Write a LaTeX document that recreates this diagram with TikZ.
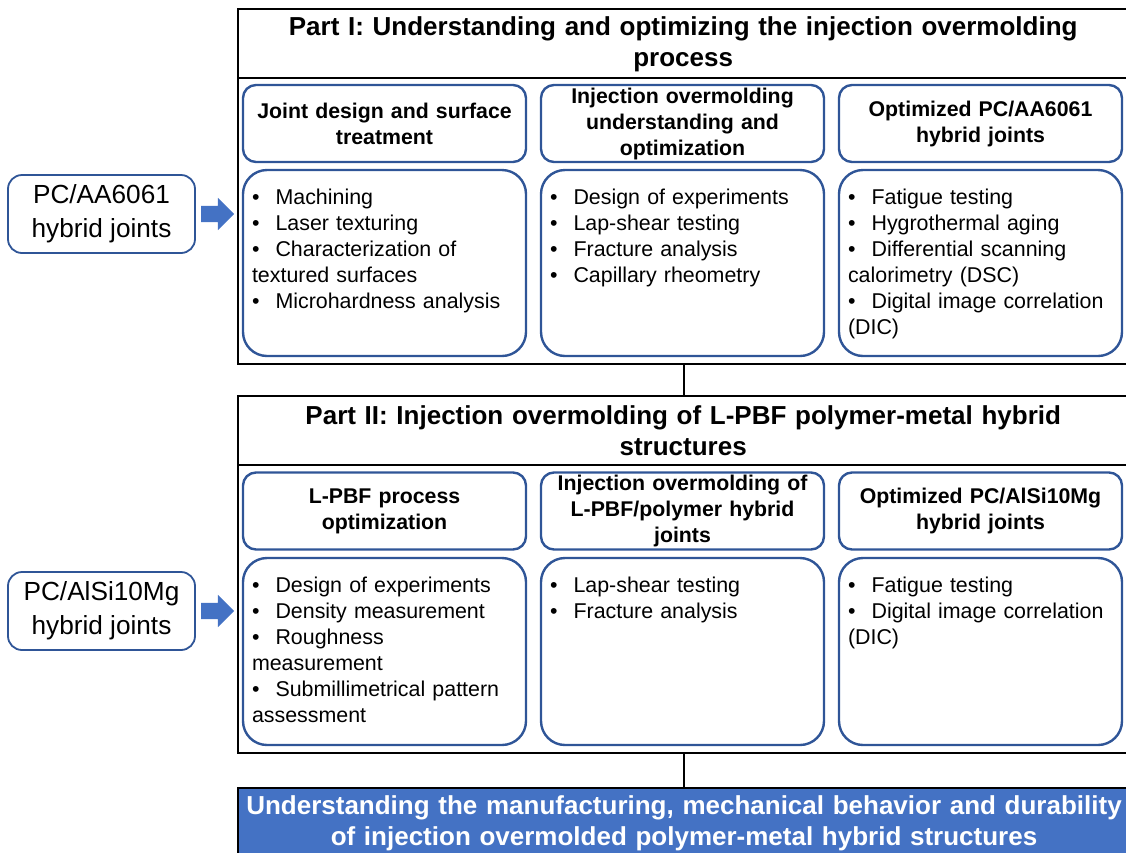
\documentclass[tikz,border=0pt]{standalone}
\usepackage{fontspec}
\setmainfont{Liberation Sans}
\usetikzlibrary{shapes.arrows, positioning}
\usepackage{xcolor}
\definecolor{boxblue}{RGB}{47,85,151}
\definecolor{fillblue}{RGB}{68,114,196}
\newcommand{\itm}{\textbullet\hspace{0.75em}}

\begin{document}
\begin{tikzpicture}[x=1pt, y=-1pt]
    % Styles
    \tikzstyle{frame} = [rectangle, draw, line width=2pt, minimum width=892pt, inner sep=0pt]
    \tikzstyle{title} = [rectangle, minimum width=892pt, minimum height=70pt, inner sep=0pt, text width=880pt, align=center, font=\bfseries\fontsize{26}{31}\selectfont]
    \tikzstyle{head} = [rectangle, draw=boxblue, line width=2.4pt, rounded corners=13pt, minimum width=283pt, minimum height=77pt, text width=280pt, align=center, inner sep=0pt, font=\bfseries\fontsize{21.3}{26}\selectfont]
    \tikzstyle{body} = [rectangle, draw=boxblue, line width=2.4pt, rounded corners=24pt, minimum width=283pt, inner sep=0pt]
    \tikzstyle{items} = [text width=272pt, align=left, inner sep=0pt, anchor=north west, font=\fontsize{21.4}{26}\selectfont]
    \tikzstyle{source} = [rectangle, draw=boxblue, line width=1.8pt, rounded corners=14pt, minimum width=187pt, minimum height=78pt, align=center, inner sep=0pt, font=\fontsize{26.2}{34}\selectfont]
    \tikzstyle{feed} = [single arrow, fill=fillblue, inner sep=8pt, minimum height=33pt, single arrow head extend=8pt]
    \tikzstyle{line} = [draw, line width=2pt]

    \useasboundingbox (0,0) rectangle (1126,852);

    % Part I
    \node [frame, minimum height=355pt, anchor=north west] (part1) at (237,8) {};
    \node [title, anchor=north west] (title1) at (237,9.5) {Part I: Understanding and optimizing the injection overmolding\\process};
    \path [line] (part1.west |- 0,78) -- (part1.east |- 0,78);
    \node [head] (head11) at (384.5,123.5) {Joint design and surface\\treatment};
    \node [head] (head12) at (682.5,123.5) {Injection overmolding\\understanding and\\optimization};
    \node [head] (head13) at (980.5,123.5) {Optimized PC/AA6061\\hybrid joints};
    \node [body, minimum height=186pt] (body11) at (384.5,263) {};
    \node [body, minimum height=186pt] (body12) at (682.5,263) {};
    \node [body, minimum height=186pt] (body13) at (980.5,263) {};
    \node [items] (list11) at ([xshift=10pt,yshift=-20pt]body11.north west) {\itm Machining\\\itm Laser texturing\\\itm Characterization of\\textured surfaces\\\itm Microhardness analysis};
    \node [items] (list12) at ([xshift=10pt,yshift=-20pt]body12.north west) {\itm Design of experiments\\\itm Lap-shear testing\\\itm Fracture analysis\\\itm Capillary rheometry};
    \node [items] (list13) at ([xshift=10pt,yshift=-20pt]body13.north west) {\itm Fatigue testing\\\itm Hygrothermal aging\\\itm Differential scanning\\calorimetry (DSC)\\\itm Digital image correlation\\(DIC)};

    % Part II
    \node [frame, minimum height=357pt, anchor=north west] (part2) at (237,395) {};
    \node [title, anchor=north west] (title2) at (237,395.5) {Part II: Injection overmolding of L-PBF polymer-metal hybrid\\structures};
    \path [line] (part2.west |- 0,465) -- (part2.east |- 0,465);
    \node [head] (head21) at (384.5,511) {L-PBF process\\optimization};
    \node [head] (head22) at (682.5,511) {Injection overmolding of\\L-PBF/polymer hybrid\\joints};
    \node [head] (head23) at (980.5,511) {Optimized PC/AlSi10Mg\\hybrid joints};
    \node [body, minimum height=187pt] (body21) at (384.5,651.5) {};
    \node [body, minimum height=187pt] (body22) at (682.5,651.5) {};
    \node [body, minimum height=187pt] (body23) at (980.5,651.5) {};
    \node [items] (list21) at ([xshift=10pt,yshift=-20pt]body21.north west) {\itm Design of experiments\\\itm Density measurement\\\itm Roughness\\measurement\\\itm Submillimetrical pattern\\assessment};
    \node [items] (list22) at ([xshift=10pt,yshift=-20pt]body22.north west) {\itm Lap-shear testing\\\itm Fracture analysis};
    \node [items] (list23) at ([xshift=10pt,yshift=-20pt]body23.north west) {\itm Fatigue testing\\\itm Digital image correlation\\(DIC)};

    % Goal
    \node [frame, fill=fillblue, minimum height=70pt, anchor=north west, text width=880pt, align=center, text=white, font=\bfseries\fontsize{26}{31}\selectfont] (goal) at (237,787) {Understanding the manufacturing, mechanical behavior and durability\\of injection overmolded polymer-metal hybrid structures};

    % Inputs
    \node [source] (src1) at (101.5,214) {PC/AA6061\\hybrid joints};
    \node [feed, right=5pt of src1] (feed1) {};
    \node [source] (src2) at (101.5,611) {PC/AlSi10Mg\\hybrid joints};
    \node [feed, right=5pt of src2] (feed2) {};

    % Edges
    \path [line] (part1.south) -- (part2.north);
    \path [line] (part2.south) -- (goal.north);

\end{tikzpicture}
\end{document}
